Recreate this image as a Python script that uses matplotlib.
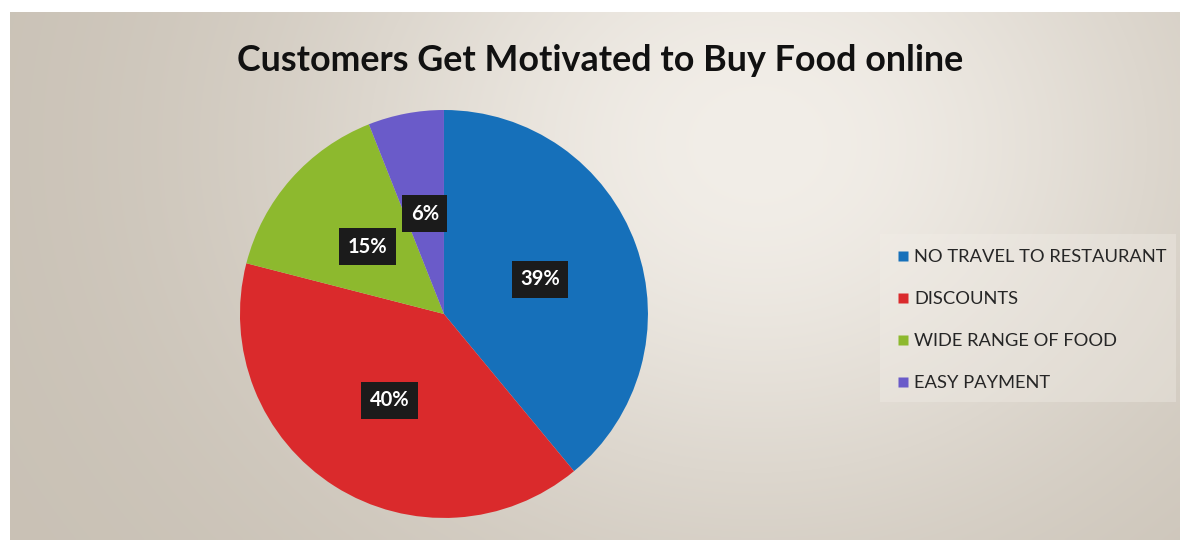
import numpy as np
import matplotlib
matplotlib.use("Agg")
import matplotlib.pyplot as plt
from matplotlib.patches import Rectangle
from matplotlib.lines import Line2D

title = "Customers Get Motivated to Buy Food online"
categories = ["NO TRAVEL TO RESTAURANT", "DISCOUNTS", "WIDE RANGE OF FOOD", "EASY PAYMENT"]
shares = [39, 40, 15, 6]
colors = ["#1670BA", "#DA2A2C", "#8DB92E", "#6A5BC9"]

plt.rcParams["font.family"] = ["Lato", "DejaVu Sans"]

fig = plt.figure(figsize=(11.88, 5.46), dpi=100)
fig.patch.set_facecolor("white")

# Beige chart-area backdrop, lighter towards the upper right
bg = fig.add_axes([10 / 1188, 6 / 546, 1170 / 1188, 528 / 546])
h, w = 200, 400
yy, xx = np.mgrid[0:h, 0:w]
u = xx / (w - 1)
v = yy / (h - 1)
glow = np.exp(-(((u - 0.64) / 0.40) ** 2 + ((v - 0.25) / 0.75) ** 2))
dark = np.array([200, 192, 180]) / 255
light = np.array([242, 238, 232]) / 255
img = dark[None, None, :] + (light - dark)[None, None, :] * glow[..., None]
bg.imshow(img, aspect="auto", extent=[0, 1, 0, 1], interpolation="bilinear")
bg.set_xlim(0, 1)
bg.set_ylim(0, 1)
bg.axis("off")

# Pie
ax = fig.add_axes([0.2020, 0.0513, 0.3434, 0.7473])
wedges, _ = ax.pie(shares, colors=colors, startangle=90, counterclock=False,
                   radius=1.0, wedgeprops=dict(linewidth=0))
ax.set_xlim(-1, 1)
ax.set_ylim(-1, 1)
ax.set_aspect("equal")
ax.axis("off")

total = sum(shares)
start = 90.0
for val in shares:
    sweep = 360.0 * val / total
    mid = np.deg2rad(start - sweep / 2)
    start -= sweep
    ax.text(0.5 * np.cos(mid), 0.5 * np.sin(mid), f"{val}%",
            ha="center", va="center", color="white", fontsize=14.5,
            fontweight="bold",
            bbox=dict(boxstyle="square,pad=0.42", facecolor="#1b1b1b",
                      edgecolor="none"))

fig.text(600 / 1188, 1 - 60 / 546, title, ha="center", va="center",
         fontsize=25.8, fontweight="bold", color="#111111")

# Legend panel
fig.patches.append(Rectangle((880 / 1188, 1 - 402 / 546), 296 / 1188, 168 / 546,
                             transform=fig.transFigure, facecolor="#f3efe9",
                             edgecolor="none", alpha=0.35, zorder=1))
handles = [Line2D([], [], marker="s", linestyle="none", markersize=7.5,
                  markerfacecolor=c, markeredgecolor="none") for c in colors]
leg = fig.legend(handles, categories, loc="upper left",
                 bbox_to_anchor=(886 / 1188, 1 - 242 / 546), frameon=False,
                 fontsize=13.2, labelspacing=1.42, handletextpad=0.15,
                 handlelength=1.0, borderaxespad=0)
for t in leg.get_texts():
    t.set_color("#262626")

fig.savefig("out.png", dpi=100, facecolor="white")
